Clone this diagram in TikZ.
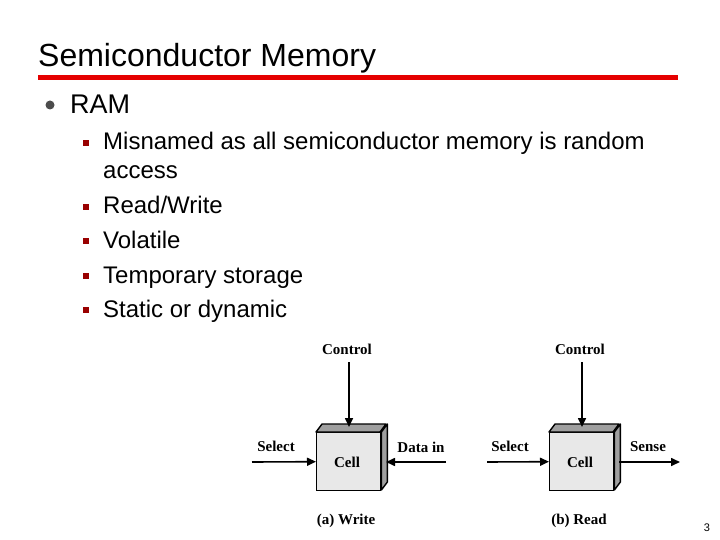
\documentclass[tikz,border=0pt]{standalone}
\usepackage{fontspec}
\setmainfont{Liberation Sans}
\newfontfamily\tms{Liberation Serif}
\usetikzlibrary{arrows.meta}
\begin{document}
\begin{tikzpicture}[x=1pt,y=-1pt,
  txt/.style={anchor=base west,inner sep=0,font=\fontsize{24}{28}\selectfont},
  lab/.style={inner sep=0,font=\tms\bfseries\fontsize{15}{17}\selectfont},
  arr/.style={line width=1.6pt,-{Triangle[length=9pt,width=8pt]}},
  face/.style={fill=gray!75,draw=black,line width=1.4pt,line join=round},
  sq/.style={fill=red!60!black,minimum size=6pt,inner sep=0}]
\useasboundingbox (0,0) rectangle (720,540);
\node[anchor=base west,inner sep=0,font=\fontsize{32}{36}\selectfont] (title) at (38,67) {Semiconductor Memory};
\fill[red!90!black] (38,75.5) rectangle (678,80.5);
\fill[gray!60!black] (50,105) circle (4.5);
\node[txt,font=\fontsize{27}{30}\selectfont] (ram) at (70,114) {RAM};
\foreach \y/\t in {150/{Misnamed as all semiconductor memory is random},214/{Read/Write},248/{Volatile},283/{Temporary storage},317/{Static or dynamic}}{
  \node[sq] at (86,\y-7) {};
  \node[txt] at (103,\y) {\t};}
\node[txt] at (103,179) {access};
\node[inner sep=0,font=\fontsize{11}{12}\selectfont] (pg) at (707,528) {3};
% cells
\foreach \n/\x/\cap in {w/316/(a) Write,r/549/(b) Read}{
  \node[draw=black,fill=gray!18,line width=1.4pt,minimum width=64pt,minimum height=58pt,anchor=north west,inner sep=0] (\n) at (\x,432) {};
  \draw[face] (\n.north west) -- ++(6,-8) -- ++(64,0) -- ++(-6,8) -- cycle;
  \draw[face] (\n.north east) -- ++(6,-8) -- ++(0,58) -- ++(-6,8) -- cycle;
  \node[lab] at (\x+31,462) {Cell};
  \node[lab] (\n ctl) at (\x+31,349) {Control};
  \coordinate (\n top) at (\x+33,427);
  \draw[arr] (\x+33,362) -- (\n top);
  \node[lab] at (\x+30,521) {\cap};
}
\node[lab] at (276,446) {Select};
\coordinate (ws) at (252,462);
\draw[arr] (ws) -- (w.west);
\node[lab] at (421,447) {Data in};
\coordinate (wd) at (446,462);
\draw[arr] (wd) -- (386,462);
\node[lab] at (510,446) {Select};
\coordinate (rs) at (487,462);
\draw[arr] (rs) -- (r.west);
\node[lab] at (648,447) {Sense};
\coordinate (rd) at (680,462);
\draw[arr] (619,462) -- (rd);
\end{tikzpicture}
\end{document}
